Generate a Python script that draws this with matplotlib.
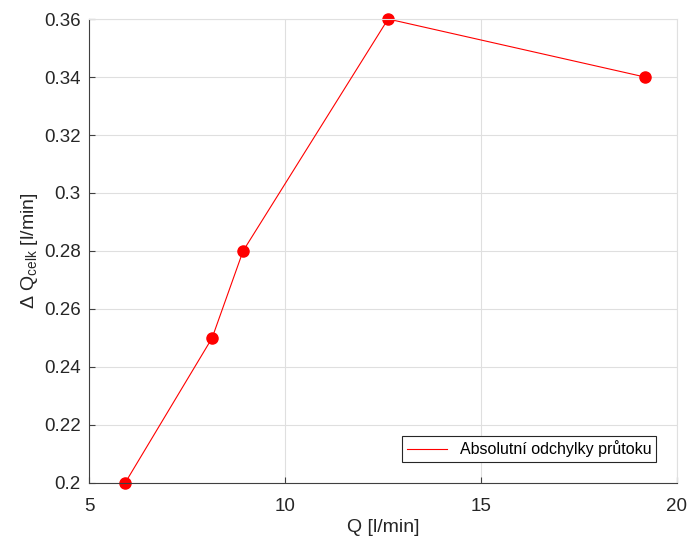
import matplotlib
matplotlib.use('Agg')
import matplotlib.pyplot as plt

# Q [l/min] and absolute deviation of flow
q     = [5.92, 8.14, 8.93, 12.63, 19.18]
dq    = [0.20, 0.25, 0.28, 0.36, 0.34]
label = 'Absolutní odchylky průtoku'

plt.rcParams['font.family'] = ['Liberation Sans', 'DejaVu Sans']
plt.rcParams['mathtext.fontset'] = 'custom'
plt.rcParams['mathtext.rm'] = 'Liberation Sans'
plt.rcParams['mathtext.it'] = 'Liberation Sans'

fig = plt.figure(figsize=(6.88, 5.40), dpi=100)
ax = fig.add_axes([0.1294, 0.1056, 0.8546, 0.8592])

ax.plot(q, dq, color='red', linewidth=0.8, label=label, clip_on=False)
ax.plot(q, dq, 'o', color='red', markersize=8, label='_nolegend_', clip_on=False)

ax.set_xlim(5, 20)
ax.set_ylim(0.2, 0.36)
ax.set_xticks([5, 10, 15, 20])
ax.set_yticks([0.2, 0.22, 0.24, 0.26, 0.28, 0.3, 0.32, 0.34, 0.36])
ax.set_yticklabels(['0.2', '0.22', '0.24', '0.26', '0.28', '0.3', '0.32', '0.34', '0.36'])

ax.grid(True, color='#dfdfdf', linewidth=0.8)
ax.set_axisbelow(True)
for s in ['top', 'right']:
    ax.spines[s].set_color('#e0e0e0')
for s in ['left', 'bottom']:
    ax.spines[s].set_color('#404040')
    ax.spines[s].set_linewidth(0.8)
ax.tick_params(direction='in', length=4, colors='#404040', labelsize=13.5, labelcolor='#262626')
ax.tick_params(axis='x', pad=11)
ax.tick_params(axis='y', pad=6)

ax.set_xlabel('Q [l/min]', fontsize=14, color='#262626', labelpad=3)
ax.set_ylabel(r'$\Delta$ Q$_{\rm celk}$ [l/min]', fontsize=14, color='#262626', labelpad=3)

leg = ax.legend(loc='lower right', fontsize=11.5, fancybox=False, edgecolor='#262626',
                framealpha=1, borderaxespad=1.3, handlelength=2.5, borderpad=0.3)
leg.get_frame().set_linewidth(0.8)

fig.savefig('out.png', dpi=100)
